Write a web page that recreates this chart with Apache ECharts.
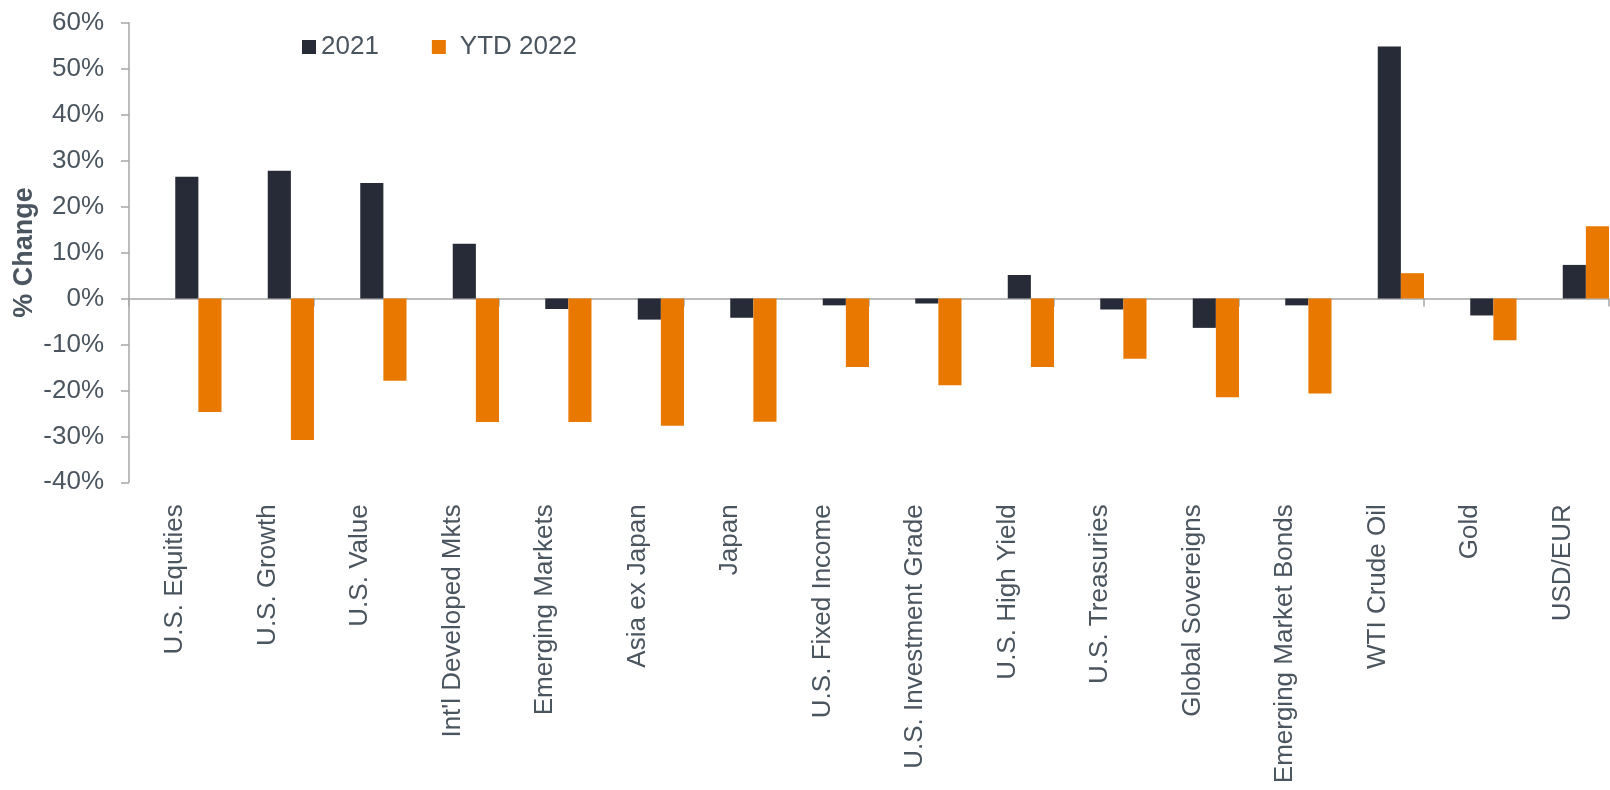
<!DOCTYPE html>
<html>
<head>
<meta charset="utf-8">
<style>
  html, body { margin: 0; padding: 0; background: #fff; }
  #container { width: 1610px; height: 790px; }
</style>
<script src="https://cdn.jsdelivr.net/npm/echarts@6/dist/echarts.min.js"></script>
</head>
<body>
<div id="container"></div>
<script>
let categories = [
    'U.S. Equities', 'U.S. Growth', 'U.S. Value', "Int'l Developed Mkts",
    'Emerging Markets', 'Asia ex Japan', 'Japan', 'U.S. Fixed Income',
    'U.S. Investment Grade', 'U.S. High Yield', 'U.S. Treasuries', 'Global Sovereigns',
    'Emerging Market Bonds', 'WTI Crude Oil', 'Gold', 'USD/EUR'
];
let values2021 = [26.5, 27.8, 25.1, 11.9, -2.3, -4.6, -4.2, -1.5, -1.1, 5.1, -2.4, -6.4, -1.5, 54.8, -3.7, 7.3];
let valuesYtd2022 = [-24.7, -30.8, -17.9, -26.9, -26.9, -27.7, -26.8, -14.9, -18.9, -14.9, -13.1, -21.5, -20.7, 5.5, -9.1, 15.7];
let seriesNames = ['2021', 'YTD 2022'];
let yMin = -40, yMax = 60, yStep = 10;

let dom = document.getElementById("container");
let myChart = echarts.init(dom);

let textColor = '#4b555f';
let axisGray = '#a6a6a6';
let font = 'Arial, "Liberation Sans", sans-serif';

// two empty slots in front of the pair, so the bars sit at the right of each category (as in the original)
let spacer = {
    type: 'bar', data: [], silent: true,
    barGap: '0%', barCategoryGap: '0%'
};

option = {
    animation: false,
    textStyle: { fontFamily: font },
    legend: {
        left: 302,
        top: 34,
        padding: 0,
        icon: 'rect',
        itemWidth: 14,
        itemHeight: 14,
        itemGap: 53,
        textStyle: { fontSize: 26, color: textColor, fontFamily: font },
        data: [
            { name: seriesNames[0] },
            { name: seriesNames[1], textStyle: { padding: [0, 0, 0, 9] } }
        ]
    },
    grid: {
        left: 129,
        right: 1,
        top: 22.7,
        bottom: 307.7,
        containLabel: false,
        outerBoundsMode: 'none'
    },
    xAxis: [
        {
            type: 'category',
            data: categories,
            axisLine: { onZero: true, lineStyle: { color: axisGray, width: 1.5 } },
            axisTick: { show: true, length: 8, lineStyle: { color: axisGray, width: 1.5 } },
            axisLabel: { show: false },
            splitLine: { show: false }
        },
        {
            // labels stay at the bottom of the plot
            type: 'category',
            data: categories,
            position: 'bottom',
            axisLine: { show: false, onZero: false },
            axisTick: { show: false },
            axisLabel: { rotate: 90, margin: 22, fontSize: 26, color: textColor, fontFamily: font },
            splitLine: { show: false }
        }
    ],
    yAxis: {
        type: 'value',
        min: yMin,
        max: yMax,
        interval: yStep,
        name: '% Change',
        nameLocation: 'middle',
        nameGap: 91,
        nameMoveOverlap: false,
        nameTextStyle: { fontSize: 27, fontWeight: 'bold', color: textColor, fontFamily: font },
        axisLine: { show: true, lineStyle: { color: axisGray, width: 1.5 } },
        axisTick: { show: true, length: 8, lineStyle: { color: axisGray, width: 1.5 } },
        axisLabel: { formatter: '{value}%', fontSize: 26, color: textColor, margin: 25, fontFamily: font },
        splitLine: { show: false }
    },
    series: [
        Object.assign({ name: 'spacer1' }, spacer),
        Object.assign({ name: 'spacer2' }, spacer),
        {
            name: seriesNames[0],
            type: 'bar',
            data: values2021,
            barGap: '0%',
            barCategoryGap: '0%',
            itemStyle: { color: '#262b37' }
        },
        {
            name: seriesNames[1],
            type: 'bar',
            data: valuesYtd2022,
            barGap: '0%',
            barCategoryGap: '0%',
            itemStyle: { color: '#e97800' }
        }
    ]
};
if (option && typeof option === "object") {
    myChart.setOption(option, true);
}
</script>
</body>
</html>
